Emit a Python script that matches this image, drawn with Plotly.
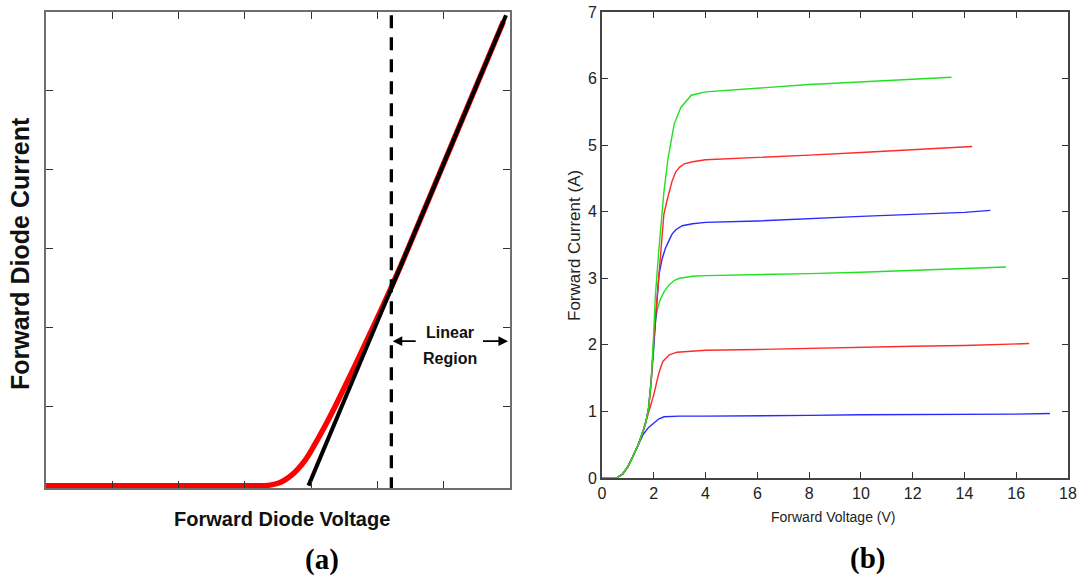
import plotly.graph_objects as go

W, H = 1078, 580

# ---- (a) idealised diode characteristic (arbitrary units) ----
diode_v = [0.0, 1.0, 2.0, 3.0, 3.30, 3.40, 3.50, 3.60, 3.70, 3.80, 3.90, 3.985, 4.04, 4.205,
           4.36, 4.505, 4.65, 4.79, 4.93, 5.067, 5.202, 5.333, 5.46, 5.80, 6.40, 6.90]
diode_i = [0.0, 0.0, 0.0, 0.0, 0.0, 0.01, 0.03, 0.07, 0.13, 0.21, 0.31, 0.42, 0.50, 0.75,
           1.00, 1.25, 1.50, 1.75, 2.00, 2.25, 2.50, 2.75, 3.00, 3.68, 4.88, 5.88]
fit_v = [3.96, 6.94]
fit_i = [0.0, 5.96]
knee_v = 5.21
arrow_i = 1.83

# ---- (b) measured forward characteristics ----
v_a1 = [0, 0.3, 0.6, 0.8, 1.0, 1.2, 1.4, 1.6, 1.8, 2.0, 2.2, 2.4, 2.7, 3.0, 4, 6, 8, 10, 12, 14, 16, 17.3]
i_a1 = [0, 0, 0.01, 0.06, 0.17, 0.33, 0.5, 0.66, 0.76, 0.83, 0.89, 0.92, 0.93, 0.93, 0.93, 0.93, 0.94, 0.95, 0.95, 0.96, 0.96, 0.97]

v_a2 = [0, 0.3, 0.6, 0.8, 1.0, 1.2, 1.4, 1.6, 1.7, 1.8, 1.9, 2.0, 2.1, 2.2, 2.35, 2.6, 2.9, 3.5, 4, 6, 8, 10, 12, 14, 16.5]
i_a2 = [0, 0, 0.01, 0.06, 0.17, 0.33, 0.5, 0.72, 0.85, 0.98, 1.12, 1.25, 1.42, 1.58, 1.75, 1.85, 1.89, 1.91, 1.92, 1.93, 1.95, 1.96, 1.98, 1.99, 2.02]

v_a3 = [0, 0.3, 0.6, 0.8, 1.0, 1.2, 1.4, 1.6, 1.7, 1.8, 1.9, 2.0, 2.06, 2.15, 2.25, 2.4, 2.59, 2.8, 3.0, 3.5, 4, 6, 8, 10, 12, 14, 15.6]
i_a3 = [0, 0, 0.01, 0.06, 0.17, 0.33, 0.5, 0.72, 0.85, 1.05, 1.45, 1.95, 2.34, 2.55, 2.68, 2.8, 2.9, 2.97, 3.0, 3.03, 3.04, 3.05, 3.07, 3.09, 3.12, 3.14, 3.17]

v_a4 = [0, 0.3, 0.6, 0.8, 1.0, 1.2, 1.4, 1.6, 1.7, 1.8, 1.9, 2.0, 2.12, 2.2, 2.32, 2.45, 2.59, 2.7, 2.85, 3.1, 3.5, 4, 6, 8, 10, 12, 14, 15.0]
i_a4 = [0, 0, 0.01, 0.06, 0.17, 0.33, 0.5, 0.72, 0.85, 1.05, 1.45, 2.0, 2.73, 3.05, 3.29, 3.45, 3.57, 3.66, 3.73, 3.79, 3.82, 3.84, 3.86, 3.9, 3.93, 3.96, 3.99, 4.02]

v_a5 = [0, 0.3, 0.6, 0.8, 1.0, 1.2, 1.4, 1.6, 1.7, 1.8, 1.9, 2.0, 2.1, 2.2, 2.25, 2.39, 2.5, 2.59, 2.7, 2.85, 3.0, 3.18, 3.5, 4, 6, 8, 10, 12, 14.3]
i_a5 = [0, 0, 0.01, 0.06, 0.17, 0.33, 0.5, 0.72, 0.85, 1.05, 1.45, 2.1, 2.6, 3.1, 3.4, 3.96, 4.15, 4.29, 4.45, 4.6, 4.67, 4.72, 4.75, 4.78, 4.81, 4.85, 4.89, 4.93, 4.98]

v_a6 = [0, 0.3, 0.6, 0.8, 1.0, 1.2, 1.4, 1.6, 1.7, 1.8, 1.9, 2.0, 2.06, 2.19, 2.3, 2.39, 2.55, 2.7, 2.79, 3.05, 3.45, 4, 5, 6, 7, 8, 9, 10, 11, 12, 13.5]
i_a6 = [0, 0, 0.01, 0.06, 0.17, 0.33, 0.5, 0.72, 0.85, 1.05, 1.45, 2.2, 2.73, 3.4, 3.95, 4.29, 4.8, 5.15, 5.32, 5.57, 5.75, 5.8, 5.83, 5.86, 5.88, 5.91, 5.93, 5.95, 5.97, 6.0, 6.02]

volt_ticks = [0, 2, 4, 6, 8, 10, 12, 14, 16, 18]
amp_ticks = [0, 1, 2, 3, 4, 5, 6, 7]

GREEN, RED, BLUE = "#22e022", "#ff2a2a", "#2a2aff"

def px(x):
    return x / W

def py(y):
    return 1 - y / H

fig = go.Figure()

# (a) curves
fig.add_trace(go.Scatter(x=diode_v, y=diode_i, mode="lines",
                         line=dict(color="#ff0000", width=5.5, shape="spline", smoothing=1.0),
                         xaxis="x", yaxis="y"))
fig.add_trace(go.Scatter(x=fit_v, y=fit_i, mode="lines",
                         line=dict(color="#000000", width=4), xaxis="x", yaxis="y"))
fig.add_trace(go.Scatter(x=[knee_v, knee_v], y=[5.96, -0.1], mode="lines",
                         line=dict(color="#000000", width=3.3, dash="13px,9px"),
                         xaxis="x", yaxis="y"))

# (b) curves
for v, i, c in [(v_a1, i_a1, BLUE), (v_a2, i_a2, RED), (v_a3, i_a3, GREEN),
                (v_a4, i_a4, BLUE), (v_a5, i_a5, RED), (v_a6, i_a6, GREEN)]:
    fig.add_trace(go.Scatter(x=v, y=i, mode="lines", line=dict(color=c, width=1.4),
                             xaxis="x2", yaxis="y2"))

frame_a = dict(showline=True, linecolor="#6e6e6e", linewidth=2, mirror="ticks",
               ticks="inside", ticklen=7, tickwidth=1.2, tickcolor="#333",
               showgrid=False, zeroline=False, showticklabels=False, fixedrange=True,
               automargin=False)
frame_b = dict(showline=True, linecolor="#444", linewidth=1.6, mirror="ticks",
               ticks="inside", ticklen=6, tickwidth=1.2, tickcolor="#333",
               showgrid=False, zeroline=False, fixedrange=True, automargin=False,
               tickfont=dict(family="Liberation Sans, Arial", size=16, color="#222"))

fig.update_layout(
    width=W, height=H, margin=dict(l=0, r=0, t=0, b=0, autoexpand=False),
    paper_bgcolor="white", plot_bgcolor="white", showlegend=False,
    xaxis=dict(domain=[px(46), px(510)], range=[0, 7], tickvals=[1, 2, 3, 4, 5, 6], **frame_a),
    yaxis=dict(domain=[py(488), py(12)], range=[-0.03, 6], tickvals=[1, 2, 3, 4, 5], **frame_a),
    xaxis2=dict(domain=[px(602), px(1068)], range=[0, 18], tickvals=volt_ticks,
                anchor="y2", **frame_b),
    yaxis2=dict(domain=[py(478), py(12)], range=[0, 7], tickvals=amp_ticks,
                anchor="x2", **frame_b),
)

SANS = "Liberation Sans, Arial"
SERIF = "Liberation Serif, Times New Roman"

def label(x, y, text, size, family=SANS, color="#111", angle=0):
    return dict(x=px(x), y=py(y), xref="paper", yref="paper", showarrow=False,
                xanchor="center", yanchor="middle", textangle=angle, text=text,
                font=dict(family=family, size=size, color=color))

annots = [
    # linear region markers
    dict(x=knee_v + 0.02, y=arrow_i, ax=5.60, ay=arrow_i, xref="x", yref="y", axref="x", ayref="y",
         text="", showarrow=True, arrowhead=2, arrowsize=1.2, arrowwidth=1.6, arrowcolor="#000"),
    dict(x=6.97, y=arrow_i, ax=6.57, ay=arrow_i, xref="x", yref="y", axref="x", ayref="y",
         text="", showarrow=True, arrowhead=2, arrowsize=1.2, arrowwidth=1.6, arrowcolor="#000"),
    label(450, 332, "<b>Linear</b>", 16),
    label(450, 358, "<b>Region</b>", 16),
    # (a) labels
    label(20, 254, "<b>Forward Diode Current</b>", 25, angle=-90),
    label(282, 519, "<b>Forward Diode Voltage</b>", 20),
    label(322, 559, "<b>(a)</b>", 29, family=SERIF, color="#000"),
    # (b) labels
    label(574, 246, "Forward Current (A)", 17, color="#222", angle=-90),
    label(833, 517, "Forward Voltage (V)", 14, color="#222"),
    label(867, 558, "<b>(b)</b>", 29, family=SERIF, color="#000"),
]
fig.update_layout(annotations=annots)

fig.write_html("out.html", config={"displayModeBar": False})
